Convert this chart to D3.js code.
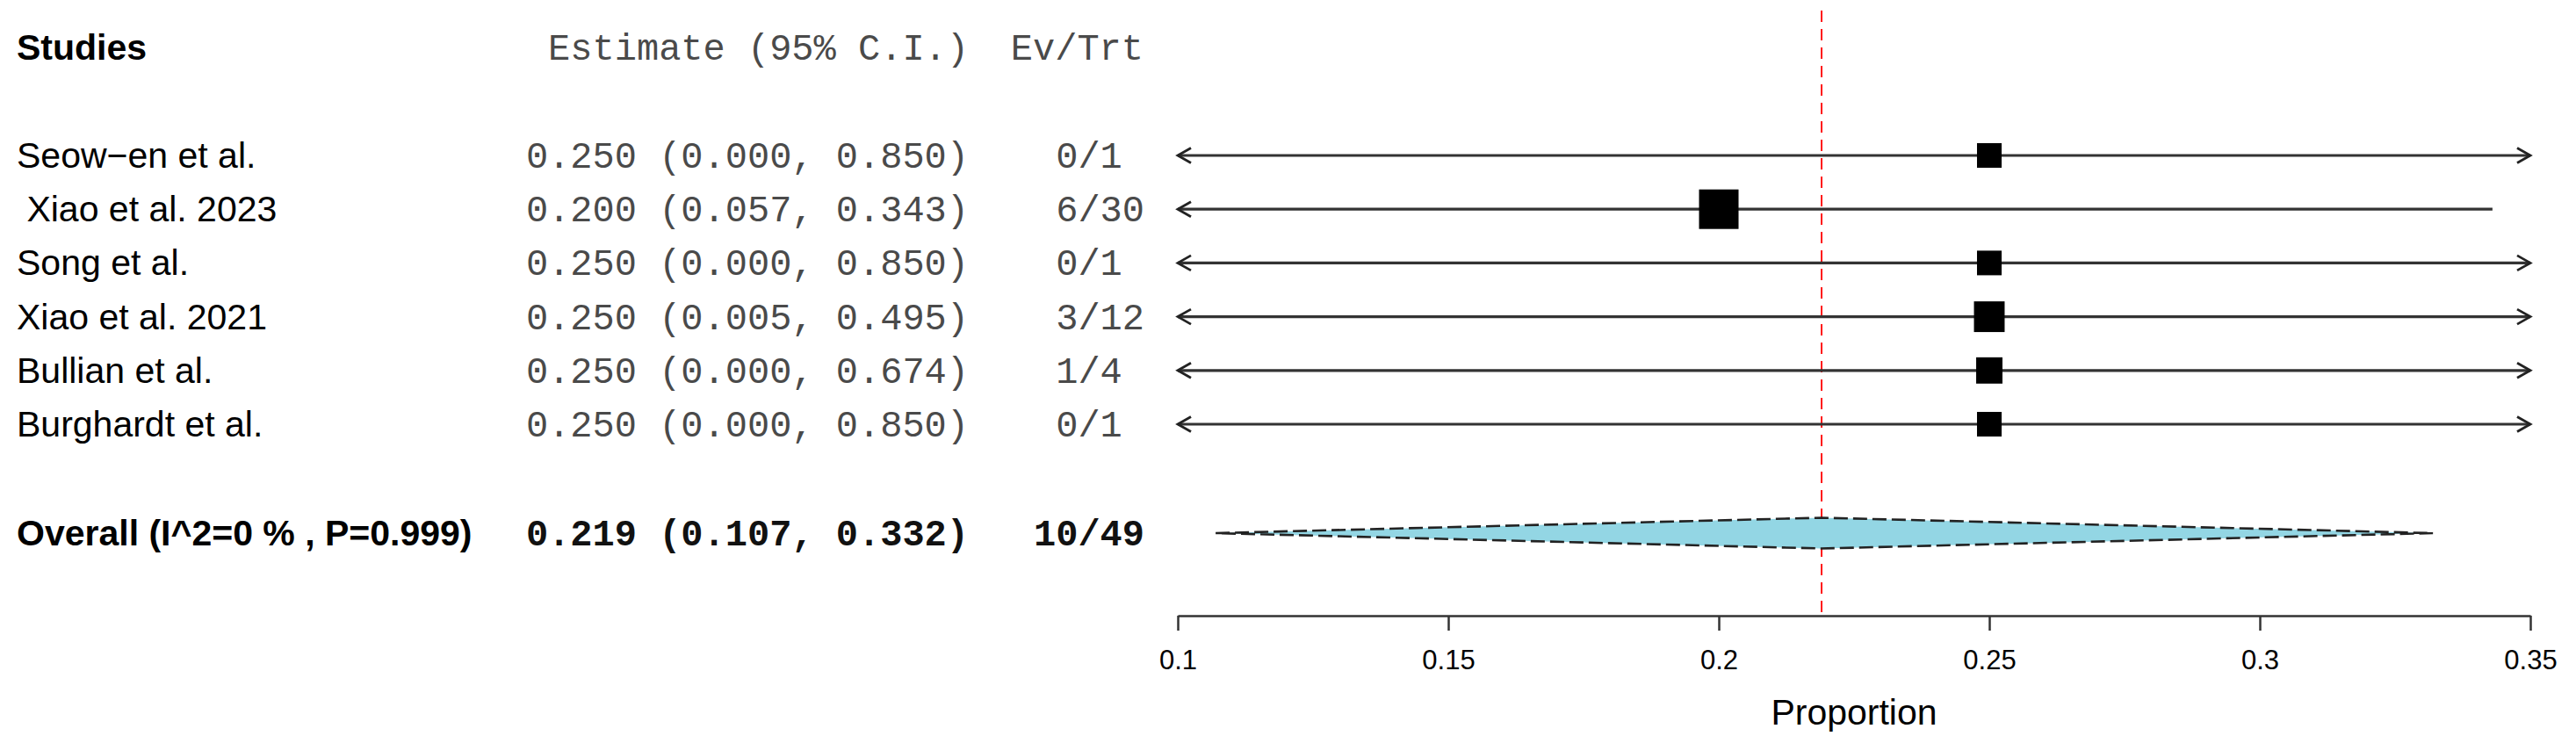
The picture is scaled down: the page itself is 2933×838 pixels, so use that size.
<!DOCTYPE html>
<html><head><meta charset="utf-8">
<script src="https://cdn.jsdelivr.net/npm/d3@7"></script>
<style>html,body{margin:0;padding:0;background:#fff;} svg{display:block;} text{white-space:pre;}</style>
</head><body>
<svg id="chart" width="2933" height="838"></svg>
<script>
// ---- data ----
const studies = ["Seow\u2212en et al.", " Xiao et al. 2023", "Song et al.", "Xiao et al. 2021", "Bullian et al.", "Burghardt et al."];
const estimates = [0.250, 0.200, 0.250, 0.250, 0.250, 0.250];
const lowerCI = [0.000, 0.057, 0.000, 0.005, 0.000, 0.000];
const upperCI = [0.850, 0.343, 0.850, 0.495, 0.674, 0.850];
const events = [0, 6, 0, 3, 1, 0];
const totals = [1, 30, 1, 12, 4, 1];
const weights = [12.1, 31.2, 12.1, 18.8, 13.8, 12.1];
const overallLabel = "Overall (I^2=0 % , P=0.999)";
const overallEst = 0.219, overallLo = 0.107, overallHi = 0.332, overallEv = 10, overallN = 49;
const xTicks = [0.1, 0.15, 0.2, 0.25, 0.3, 0.35];
const axisTitle = "Proportion";
const headers = ["Studies", "Estimate (95% C.I.)", "Ev/Trt"];

// ---- layout ----
const svg = d3.select("#chart");
const SANS = "'Liberation Sans', Arial, sans-serif";
const MONO = "'Liberation Mono', 'Courier New', monospace";
const MONO_FILL = "#4a4a4a";
const x = d3.scaleLinear().domain([0.1, 0.35]).range([1341, 2881]);
const y = d3.scalePoint().domain(d3.range(studies.length)).range([177, 483]);
const yOverall = 607;
const axisY = 701;
const size = d3.scaleSqrt().domain([0, d3.max(weights)]).range([0, 45]);
const f3 = d3.format(".3f");
const estText = (e, l, h) => `${f3(e)} (${f3(l)}, ${f3(h)})`;
const evText = (e, n) => String(e).padStart(2, " ") + "/" + n;
const colEstRight = 1103, colEvLeft = 1177, colEvRight = 1302, colLabel = 19;

// headers
svg.append("text").attr("x", colLabel).attr("y", 68).attr("font-family", SANS).attr("font-weight", "bold")
  .attr("font-size", 41).text(headers[0]);
svg.append("text").attr("x", colEstRight).attr("y", 68).attr("text-anchor", "end").attr("font-family", MONO)
  .attr("font-size", 42).attr("fill", MONO_FILL).text(headers[1]);
svg.append("text").attr("x", colEvRight).attr("y", 68).attr("text-anchor", "end").attr("font-family", MONO)
  .attr("font-size", 42).attr("fill", MONO_FILL).text(headers[2]);

// reference line
svg.append("line").attr("x1", x(overallEst)).attr("x2", x(overallEst)).attr("y1", 12).attr("y2", axisY)
  .attr("stroke", "#ff0000").attr("stroke-width", 1.8).attr("stroke-dasharray", "13,8");

const idx = d3.range(studies.length);
const rows = svg.append("g").selectAll("g").data(idx).join("g");
rows.append("text").attr("x", colLabel).attr("y", i => y(i) + 14).attr("font-family", SANS)
  .attr("font-size", 41).text(i => studies[i]);
rows.append("text").attr("x", colEstRight).attr("y", i => y(i) + 14).attr("text-anchor", "end")
  .attr("font-family", MONO).attr("font-size", 42).attr("fill", MONO_FILL)
  .text(i => estText(estimates[i], lowerCI[i], upperCI[i]));
rows.append("text").attr("x", colEvLeft).attr("y", i => y(i) + 14)
  .attr("font-family", MONO).attr("font-size", 42).attr("fill", MONO_FILL)
  .text(i => evText(events[i], totals[i]));

const [dMin, dMax] = x.domain();
rows.append("line")
  .attr("x1", i => x(Math.max(lowerCI[i], dMin)))
  .attr("x2", i => x(Math.min(upperCI[i], dMax)))
  .attr("y1", i => y(i)).attr("y2", i => y(i))
  .attr("stroke", "#333").attr("stroke-width", 3.2);
// arrows for CIs clipped by the axis limits
rows.filter(i => lowerCI[i] < dMin).append("path")
  .attr("d", i => `M${x(dMin) + 15},${y(i) - 8.5} L${x(dMin)},${y(i)} L${x(dMin) + 15},${y(i) + 8.5}`)
  .attr("fill", "none").attr("stroke", "#222").attr("stroke-width", 2.8);
rows.filter(i => upperCI[i] > dMax).append("path")
  .attr("d", i => `M${x(dMax) - 15},${y(i) - 8.5} L${x(dMax)},${y(i)} L${x(dMax) - 15},${y(i) + 8.5}`)
  .attr("fill", "none").attr("stroke", "#222").attr("stroke-width", 2.8);
rows.append("rect")
  .attr("x", i => x(estimates[i]) - size(weights[i]) / 2)
  .attr("y", i => y(i) - size(weights[i]) / 2)
  .attr("width", i => size(weights[i])).attr("height", i => size(weights[i]))
  .attr("fill", "#000");

// overall
svg.append("text").attr("x", colLabel).attr("y", yOverall + 14).attr("font-family", SANS).attr("font-weight", "bold")
  .attr("font-size", 41).text(overallLabel);
svg.append("text").attr("x", colEstRight).attr("y", yOverall + 14).attr("text-anchor", "end").attr("font-family", MONO)
  .attr("font-weight", "bold").attr("font-size", 42).attr("fill", "#111").text(estText(overallEst, overallLo, overallHi));
svg.append("text").attr("x", colEvLeft).attr("y", yOverall + 14).attr("font-family", MONO)
  .attr("font-weight", "bold").attr("font-size", 42).attr("fill", "#111").text(evText(overallEv, overallN));
svg.append("path")
  .attr("d", `M${x(overallLo)},${yOverall} L${x(overallEst)},${yOverall - 17.5} L${x(overallHi)},${yOverall} L${x(overallEst)},${yOverall + 17.5} Z`)
  .attr("fill", "#93d6e4").attr("stroke", "#222").attr("stroke-width", 2.6).attr("stroke-dasharray", "16,6");

// axis
const axis = svg.append("g").attr("transform", `translate(0,${axisY})`)
  .call(d3.axisBottom(x).tickValues(xTicks).tickFormat(d3.format("")).tickSize(17).tickSizeOuter(0).tickPadding(22));
axis.select(".domain").attr("stroke", "#333").attr("stroke-width", 2.5);
axis.selectAll(".tick line").attr("stroke", "#333").attr("stroke-width", 2.5);
axis.selectAll(".tick text").attr("font-family", SANS).attr("font-size", 31).attr("fill", "#000");
svg.append("text").attr("x", (x.range()[0] + x.range()[1]) / 2).attr("y", 825).attr("text-anchor", "middle")
  .attr("font-family", SANS).attr("font-size", 41).text(axisTitle);
</script>
</body></html>
